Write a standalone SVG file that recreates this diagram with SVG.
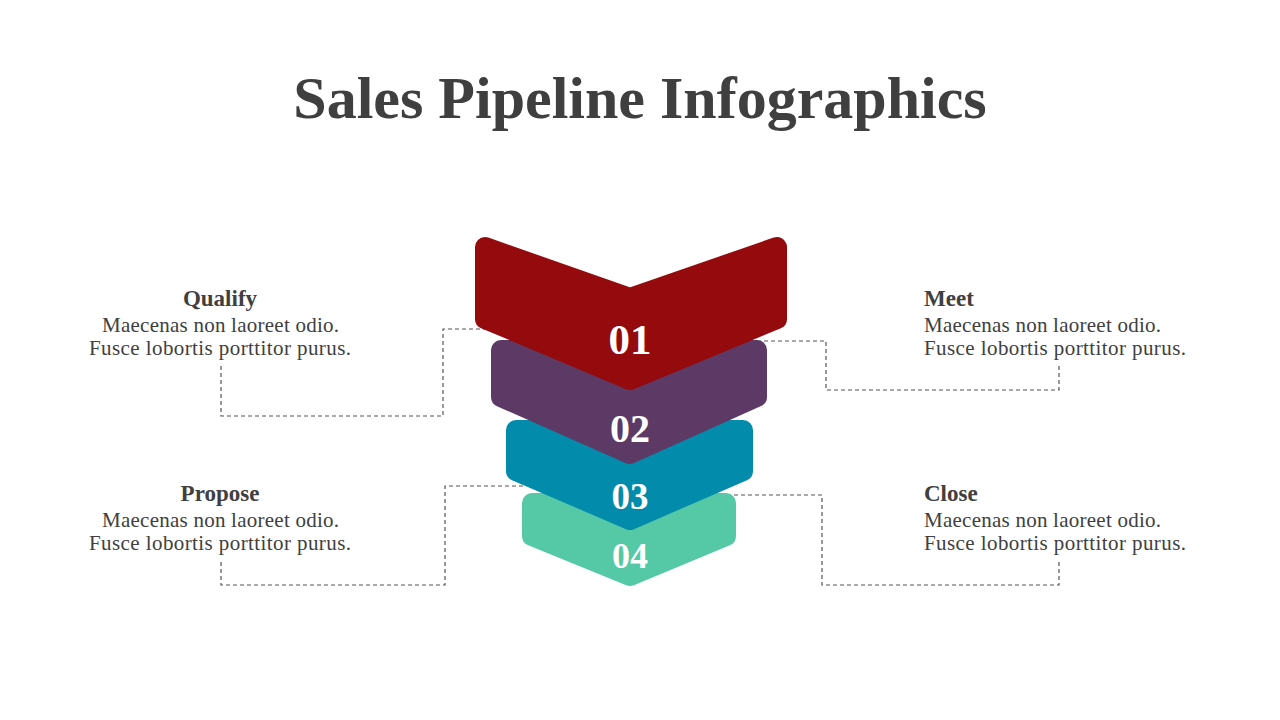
<svg xmlns="http://www.w3.org/2000/svg" width="1280" height="720" viewBox="0 0 1280 720">
<style>
.title{font-family:"Liberation Serif","DejaVu Serif",serif;font-weight:bold;font-size:60px;fill:#3f3f3f;text-anchor:middle}
.head{font-family:"Liberation Serif","DejaVu Serif",serif;font-weight:bold;font-size:23px;fill:#404040}
.body{font-family:"Liberation Serif","DejaVu Serif",serif;font-size:21px;fill:#404040}
.num{font-family:"Liberation Serif","DejaVu Serif",serif;font-weight:bold;fill:#ffffff;text-anchor:middle}
.dash{fill:none;stroke:#555;stroke-width:1.2;stroke-dasharray:4 3}
.shape{stroke-width:20;stroke-linejoin:round}
</style>
<rect width="1280" height="720" fill="#ffffff"/>
<text class="title" x="640" y="118">Sales Pipeline Infographics</text>
<g id="connectors">
<polyline class="dash" points="221,366 221,416 443,416 443,329 490,329"/>
<polyline class="dash" points="750,341 826,341 826,390 1059,390 1059,366"/>
<polyline class="dash" points="221,562 221,585 445,585 445,486 525,486"/>
<polyline class="dash" points="720,495 822,495 822,585 1059,585 1059,562"/>
</g>
<g id="step4">
<polygon class="shape" points="532,503 726,503 726,536 630,576 532,536" fill="#55C8A5" stroke="#55C8A5"/>
<text class="num" x="630" y="568" font-size="36">04</text>
</g>
<g id="step3">
<polygon class="shape" points="516,430 743,430 743,471 630,520 516,471" fill="#028BAA" stroke="#028BAA"/>
<text class="num" x="630" y="509" font-size="37">03</text>
</g>
<g id="step2">
<polygon class="shape" points="501,350 757,350 757,397 630,454 501,397" fill="#5D3A66" stroke="#5D3A66"/>
<text class="num" x="630" y="442" font-size="40">02</text>
</g>
<g id="step1">
<polygon class="shape" points="485,247 630,298 777,247 777,319 630,380 485,319" fill="#940A0D" stroke="#940A0D"/>
<text class="num" x="630" y="354" font-size="43">01</text>
</g>
<g id="qualify">
<text class="head" x="220" y="306" text-anchor="middle">Qualify</text>
<text class="body" x="102" y="332" textLength="237" lengthAdjust="spacing">Maecenas non laoreet odio.</text>
<text class="body" x="89" y="355" textLength="262" lengthAdjust="spacing">Fusce lobortis porttitor purus.</text>
</g>
<g id="meet">
<text class="head" x="924" y="306">Meet</text>
<text class="body" x="924" y="332" textLength="237" lengthAdjust="spacing">Maecenas non laoreet odio.</text>
<text class="body" x="924" y="355" textLength="262" lengthAdjust="spacing">Fusce lobortis porttitor purus.</text>
</g>
<g id="propose">
<text class="head" x="220" y="501" text-anchor="middle">Propose</text>
<text class="body" x="102" y="527" textLength="237" lengthAdjust="spacing">Maecenas non laoreet odio.</text>
<text class="body" x="89" y="550" textLength="262" lengthAdjust="spacing">Fusce lobortis porttitor purus.</text>
</g>
<g id="close">
<text class="head" x="924" y="501">Close</text>
<text class="body" x="924" y="527" textLength="237" lengthAdjust="spacing">Maecenas non laoreet odio.</text>
<text class="body" x="924" y="550" textLength="262" lengthAdjust="spacing">Fusce lobortis porttitor purus.</text>
</g>
</svg>
